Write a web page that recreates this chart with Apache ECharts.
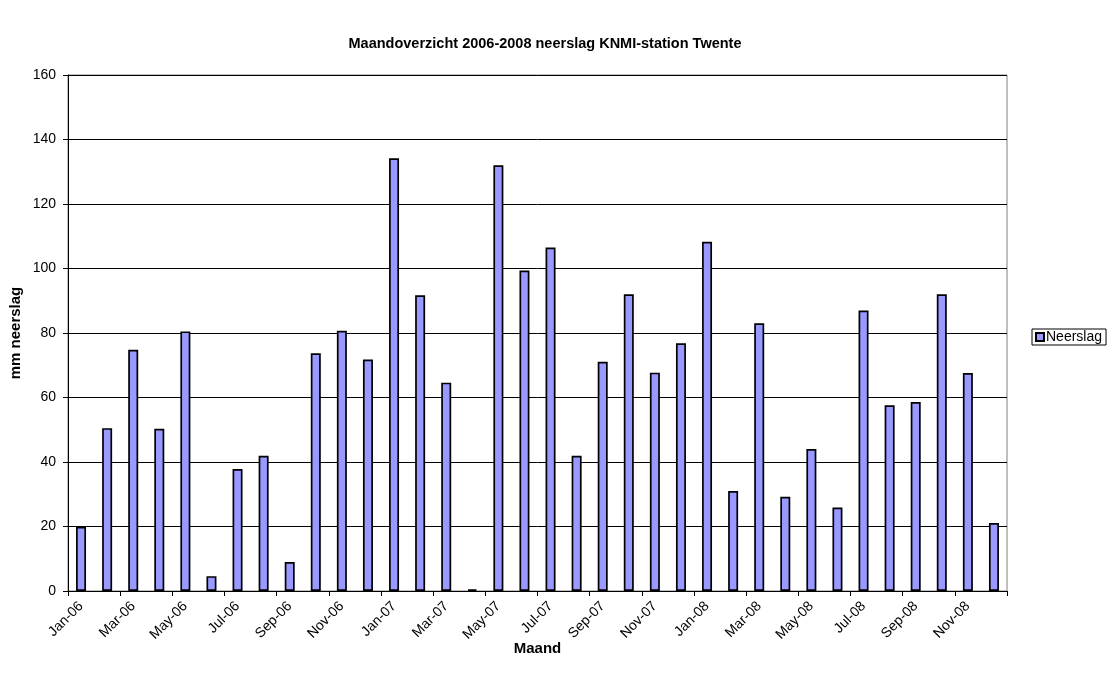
<!DOCTYPE html>
<html>
<head>
<meta charset="utf-8">
<script src="https://cdn.jsdelivr.net/npm/echarts@6/dist/echarts.min.js"></script>
<style>
  html, body { margin: 0; padding: 0; background: #fff; }
  #chart { width: 1117px; height: 678px; }
</style>
</head>
<body>
<div id="chart"></div>
<script>
// Monthly precipitation at KNMI station Twente, 2006-2008 (mm)
const months = [
  'Jan-06','Feb-06','Mar-06','Apr-06','May-06','Jun-06','Jul-06','Aug-06','Sep-06','Oct-06','Nov-06','Dec-06',
  'Jan-07','Feb-07','Mar-07','Apr-07','May-07','Jun-07','Jul-07','Aug-07','Sep-07','Oct-07','Nov-07','Dec-07',
  'Jan-08','Feb-08','Mar-08','Apr-08','May-08','Jun-08','Jul-08','Aug-08','Sep-08','Oct-08','Nov-08','Dec-08'
];
const neerslag = [
  19.9, 50.5, 74.8, 50.3, 80.5, 4.6, 37.8, 41.9, 9.0, 73.7, 80.7, 71.8,
  134.2, 91.7, 64.6, 0.5, 132.0, 99.4, 106.5, 41.9, 71.1, 92.0, 67.7, 76.8,
  108.3, 31.0, 83.0, 29.2, 44.0, 25.9, 87.0, 57.6, 58.6, 92.0, 67.6, 21.1
];
const yTicks = { min: 0, max: 160, step: 20 };

const FONT = 'Liberation Sans, Arial, sans-serif';
const chart = echarts.init(document.getElementById('chart'), null, { renderer: 'canvas' });

chart.setOption({
  animation: false,
  backgroundColor: '#ffffff',
  textStyle: { fontFamily: FONT, color: '#000' },
  title: {
    text: 'Maandoverzicht 2006-2008 neerslag KNMI-station Twente',
    left: 540,
    top: 31,
    textAlign: 'center',
    textStyle: { fontFamily: FONT, fontSize: 14.5, fontWeight: 'bold', color: '#000' }
  },
  legend: {
    data: ['Neerslag'],
    left: 1032,
    top: 329,
    orient: 'vertical',
    itemWidth: 8,
    itemHeight: 8,
    itemGap: 4,
    padding: [1, 4, 1, 3],
    borderColor: '#000',
    borderWidth: 1,
    icon: 'rect',
    textStyle: { fontFamily: FONT, fontSize: 14, color: '#000', padding: [0, 0, 0, -3] }
  },
  grid: {
    left: 68,
    right: 110,
    top: 75,
    bottom: 87,
    show: true,
    borderColor: '#808080',
    borderWidth: 1
  },
  xAxis: {
    type: 'category',
    data: months,
    boundaryGap: true,
    name: 'Maand',
    nameLocation: 'middle',
    nameGap: 50,
    nameMoveOverlap: false,
    nameTextStyle: { fontFamily: FONT, fontSize: 15, fontWeight: 'bold', color: '#000' },
    axisLine: { lineStyle: { color: '#000', width: 1 } },
    axisTick: { show: true, interval: 1, length: 5, lineStyle: { color: '#000' } },
    axisLabel: {
      interval: 1,
      rotate: 45,
      margin: 13,
      fontFamily: FONT,
      fontSize: 14,
      color: '#000'
    },
    splitLine: { show: false }
  },
  yAxis: {
    type: 'value',
    min: yTicks.min,
    max: yTicks.max,
    interval: yTicks.step,
    name: 'mm neerslag',
    nameLocation: 'middle',
    nameGap: 45,
    nameMoveOverlap: false,
    nameTextStyle: { fontFamily: FONT, fontSize: 15, fontWeight: 'bold', color: '#000' },
    axisLine: { show: true, lineStyle: { color: '#000', width: 1 } },
    axisTick: { show: true, length: 5, lineStyle: { color: '#000' } },
    axisLabel: { margin: 12, fontFamily: FONT, fontSize: 14, color: '#000' },
    splitLine: { show: true, lineStyle: { color: '#000', width: 1 } }
  },
  series: [{
    name: 'Neerslag',
    type: 'bar',
    data: neerslag,
    barWidth: 10,
    itemStyle: { color: '#9999ff', borderColor: '#000', borderWidth: 1.7 }
  }]
});
</script>
</body>
</html>
